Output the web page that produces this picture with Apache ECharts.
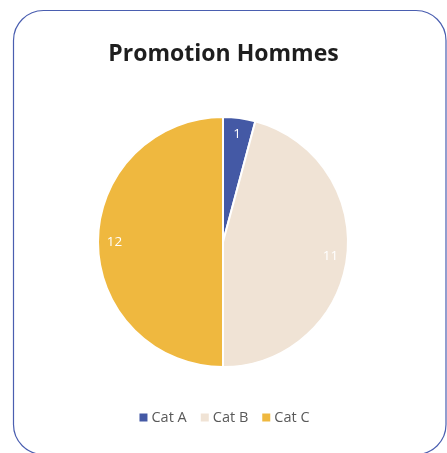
<!DOCTYPE html>
<html><head><meta charset="utf-8">
<style>html,body{margin:0;padding:0;background:#fff;}#c{width:447px;height:453px;}</style>
<script src="https://cdn.jsdelivr.net/npm/echarts@6/dist/echarts.min.js"></script>
</head><body><div id="c"></div>
<script>
const categories = ['Cat A', 'Cat B', 'Cat C'];
const values = [1, 11, 12];
const colors = ['#4459a5', '#f0e3d5', '#efb83f'];
const titleText = 'Promotion Hommes';

const chart = echarts.init(document.getElementById('c'), null, {renderer: 'canvas'});
const data = categories.map((n, i) => ({name: n, value: values[i], itemStyle: {color: colors[i]}}));
const font = 'Open Sans';
chart.setOption({
  animation: false,
  graphic: [{
    type: 'rect', z: -10,
    shape: {x: 13.5, y: 10.5, width: 432.5, height: 444, r: 30},
    style: {fill: '#fff', stroke: '#4a5eb0', lineWidth: 1.2}
  }],
  title: {
    text: titleText, left: 'center', top: 38,
    textStyle: {fontFamily: font, fontWeight: 'bold', fontSize: 23, color: '#1e1e1e'}
  },
  legend: {
    data: categories, bottom: 23, left: 'center',
    itemWidth: 10, itemHeight: 10, itemGap: 12, icon: 'rect',
    textStyle: {fontFamily: font, fontSize: 14.5, color: '#595959', padding: [0, 0, 0, -2]}
  },
  series: [{
    type: 'pie', center: [223, 242], radius: [0, 125],
    startAngle: 90, clockwise: true,
    itemStyle: {borderColor: '#fff', borderWidth: 2},
    label: {show: false}, labelLine: {show: false},
    emphasis: {disabled: true},
    data: data
  }, {
    type: 'pie', center: [223, 242], radius: [86, 125],
    startAngle: 90, clockwise: true, silent: true,
    itemStyle: {color: 'rgba(0,0,0,0)', borderWidth: 0},
    label: {show: true, position: 'inside', formatter: '{c}', color: '#fff', fontFamily: font, fontSize: 13.5},
    labelLine: {show: false},
    emphasis: {disabled: true},
    data: categories.map((n, i) => ({name: n, value: values[i], itemStyle: {color: 'rgba(0,0,0,0)'}}))
  }]
});
</script></body></html>
